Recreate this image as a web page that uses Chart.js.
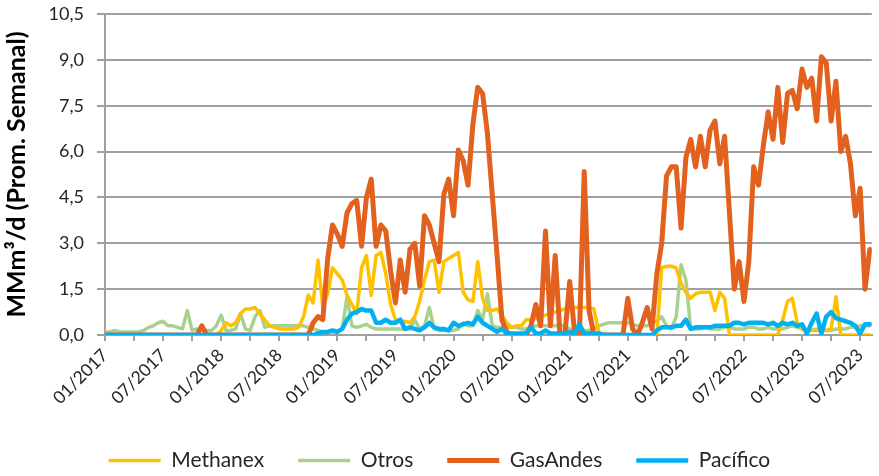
<!DOCTYPE html>
<html>
<head>
<meta charset="utf-8">
<script src="https://cdn.jsdelivr.net/npm/chart.js@4/dist/chart.umd.min.js"></script>
<style>
  html, body { margin: 0; padding: 0; background: #fff; }
  canvas { display: block; }
</style>
</head>
<body>
<canvas id="chart" width="879" height="476"></canvas>
<script>
// semi-monthly samples, first one = 01/2017 (one row per year)
const tickLabels = ['01/2017', '07/2017', '01/2018', '07/2018', '01/2019', '07/2019', '01/2020',
  '07/2020', '01/2021', '07/2021', '01/2022', '07/2022', '01/2023', '07/2023'];

const methanex = [
  0, 0, 0, 0, 0, 0, 0, 0, 0, 0, 0, 0, 0, 0, 0, 0, 0, 0, 0, 0, 0, 0, 0, 0,
  0.15, 0.4, 0.3, 0.4, 0.7, 0.85, 0.85, 0.9, 0.7, 0.5, 0.3, 0.25, 0.2, 0.2, 0.2, 0.2, 0.25, 0.6, 1.3, 1.05, 2.45, 0.9, 1.35, 2.2,
  2.0, 1.8, 1.3, 1.0, 0.7, 2.2, 2.6, 1.3, 2.6, 2.7, 2.0, 1.0, 0.5, 0.45, 0.45, 0.4, 0.6, 1.1, 1.8, 2.4, 2.45, 1.4, 2.4, 2.5,
  2.6, 2.7, 1.4, 1.15, 1.1, 2.4, 1.2, 0.8, 0.8, 0.85, 0.65, 0.4, 0.25, 0.3, 0.3, 0.5, 0.5, 0.55, 0.6, 0.65, 0.7, 0.75, 0.8, 0.85,
  0.9, 0.9, 0.9, 0.9, 0.9, 0.85, 0.1, 0, 0, 0, 0, 0, 0, 0, 0, 0, 0, 0, 0, 2.2, 2.25, 2.25, 2.2, 1.7,
  1.4, 1.2, 1.35, 1.4, 1.4, 1.4, 0.8, 1.4, 1.2, 0, 0, 0, 0, 0, 0, 0, 0, 0, 0, 0, 0.5, 1.1, 1.2, 0.4,
  0.2, 0.15, 0.15, 0.15, 0.15, 0.15, 0.2, 1.25, 0, 0, 0, 0, 0, 0, 0
];

const otros = [
  0.1, 0.1, 0.15, 0.1, 0.1, 0.1, 0.1, 0.1, 0.15, 0.25, 0.3, 0.4, 0.45, 0.3, 0.3, 0.25, 0.2, 0.8, 0.15, 0.2, 0.2, 0.15, 0.15, 0.3,
  0.65, 0.15, 0.15, 0.2, 0.7, 0.2, 0.15, 0.6, 0.8, 0.25, 0.3, 0.3, 0.3, 0.3, 0.3, 0.3, 0.3, 0.3, 0.25, 0.2, 0.15, 0.1, 0.1, 0.1,
  0.1, 0.2, 1.25, 0.3, 0.25, 0.3, 0.35, 0.25, 0.2, 0.2, 0.2, 0.2, 0.2, 0.2, 0.2, 0.2, 0.5, 0.2, 0.3, 0.9, 0.2, 0.15, 0.15, 0.15,
  0.15, 0.2, 0.4, 0.3, 0.3, 0.8, 0.5, 1.35, 0.3, 0.25, 0.25, 0.25, 0.25, 0.25, 0.2, 0.2, 0.25, 0.3, 0.3, 0.3, 0.3, 0.3, 0.3, 0.3,
  0.2, 0.15, 0.15, 0.15, 0.15, 0.2, 0.3, 0.35, 0.4, 0.4, 0.4, 0.4, 0.4, 0.35, 0.3, 0.3, 0.3, 0.4, 0.45, 0.6, 0.3, 0.2, 0.6, 2.3,
  1.8, 0.2, 0.2, 0.2, 0.25, 0.2, 0.2, 0.2, 0.25, 0.25, 0.2, 0.2, 0.2, 0.25, 0.25, 0.2, 0.2, 0.25, 0.2, 0.2, 0.2, 0.25, 0.3, 0.25,
  0.2, 0.15, 0.15, 0.2, 0.2, 0.15, 0.15, 0.2, 0.2, 0.2, 0.25, 0.25, 0.3, 0.3, 0.3
];

const gasAndes = [
  0, 0, 0, 0, 0, 0, 0, 0, 0, 0, 0, 0, 0, 0, 0, 0, 0, 0, 0, 0, 0.3, 0, 0, 0,
  0, 0, 0, 0, 0, 0, 0, 0, 0, 0, 0, 0, 0, 0, 0, 0, 0, 0, 0, 0.4, 0.6, 0.5, 2.5, 3.6,
  3.3, 2.9, 4.0, 4.3, 4.4, 2.9, 4.5, 5.1, 2.9, 3.6, 3.4, 2.1, 1.05, 2.45, 1.4, 2.8, 3.0, 1.6, 3.9, 3.6, 3.0, 2.4, 4.6, 5.1,
  3.9, 6.05, 5.7, 4.9, 6.9, 8.1, 7.9, 6.6, 4.6, 2.6, 0.5, 0.1, 0, 0, 0, 0, 0.3, 1.0, 0.3, 3.4, 0.3, 2.6, 0, 0,
  1.75, 0.1, 0, 5.35, 0.8, 0, 0, 0, 0, 0, 0, 0, 1.2, 0.2, 0, 0.4, 0.9, 0.2, 2.0, 3.0, 5.2, 5.5, 5.5, 3.5,
  5.8, 6.4, 5.5, 6.5, 5.5, 6.7, 7.0, 5.6, 6.5, 4.0, 1.5, 2.4, 1.1, 2.4, 5.5, 4.9, 6.2, 7.3, 6.4, 8.1, 6.3, 7.9, 8.0, 7.4,
  8.7, 8.1, 8.4, 7.0, 9.1, 8.9, 7.0, 8.3, 6.0, 6.5, 5.6, 3.9, 4.8, 1.5, 2.8
];

const pacifico = [
  0, 0, 0, 0, 0, 0, 0, 0, 0, 0, 0, 0, 0, 0, 0, 0, 0, 0, 0, 0, 0, 0, 0, 0,
  0, 0, 0, 0, 0, 0, 0, 0, 0, 0, 0, 0, 0, 0, 0, 0, 0, 0, 0, 0, 0.05, 0.1, 0.1, 0.15,
  0.1, 0.2, 0.5, 0.7, 0.75, 0.85, 0.8, 0.8, 0.4, 0.4, 0.5, 0.4, 0.4, 0.5, 0.2, 0.25, 0.2, 0.15, 0.25, 0.4, 0.25, 0.2, 0.2, 0.15,
  0.4, 0.3, 0.35, 0.4, 0.35, 0.6, 0.4, 0.3, 0.2, 0.1, 0.2, 0.05, 0.05, 0.05, 0.05, 0.05, 0.25, 0.05, 0.05, 0.15, 0.05, 0.05, 0.05, 0.05,
  0.1, 0.05, 0.35, 0.05, 0.05, 0.05, 0.05, 0, 0, 0, 0, 0, 0, 0, 0, 0, 0, 0, 0.15, 0.25, 0.25, 0.25, 0.3, 0.3,
  0.5, 0.2, 0.25, 0.25, 0.25, 0.25, 0.3, 0.3, 0.3, 0.3, 0.4, 0.4, 0.35, 0.4, 0.4, 0.4, 0.4, 0.35, 0.4, 0.3, 0.4, 0.35, 0.4, 0.3,
  0.35, 0.05, 0.4, 0.7, 0.05, 0.6, 0.75, 0.55, 0.5, 0.45, 0.4, 0.3, 0.05, 0.35, 0.35
];

// x value in months since 01/2017
const toPoints = arr => arr.map((v, i) => ({ x: i / 2, y: v }));

Chart.defaults.font.family = 'Lato, "Open Sans", sans-serif';
Chart.defaults.color = '#262626';

const gridGray = '#a0a0a0';

const series = [
  { label: 'Methanex', data: methanex, color: '#ffc000', width: 3.5, order: 2 },
  { label: 'Otros', data: otros, color: '#a9d18e', width: 3.5, order: 3 },
  { label: 'GasAndes', data: gasAndes, color: '#e2611e', width: 5, order: 1 },
  { label: 'Pacífico', data: pacifico, color: '#00b0f0', width: 4.5, order: 0 }
];

new Chart(document.getElementById('chart'), {
  type: 'line',
  data: {
    datasets: series.map(s => ({
      label: s.label,
      data: toPoints(s.data),
      borderColor: s.color,
      backgroundColor: s.color,
      borderWidth: s.width,
      pointRadius: 0,
      tension: 0,
      order: s.order,
      borderJoinStyle: 'round',
      borderCapStyle: 'round'
    }))
  },
  options: {
    responsive: false,
    animation: false,
    layout: { padding: { top: 14, right: 0, left: 0, bottom: -5 } },
    plugins: {
      tooltip: { enabled: false },
      legend: {
        position: 'bottom',
        labels: {
          usePointStyle: true,
          pointStyleWidth: 52,
          pointStyle: 'line',
          padding: 34,
          font: { size: 21 },
          color: '#262626',
          sort: (a, b) => a.datasetIndex - b.datasetIndex
        }
      }
    },
    scales: {
      x: {
        type: 'linear',
        min: 0,
        max: 79.2,
        afterFit: s => { s.height = 81; },
        border: { color: gridGray, width: 2 },
        grid: { drawOnChartArea: false, color: gridGray, lineWidth: 2, tickLength: 6 },
        ticks: {
          stepSize: 3,
          autoSkip: false,
          includeBounds: false,
          minRotation: 45,
          maxRotation: 45,
          padding: 4,
          font: { size: 17.5 },
          callback: v => (v % 6 === 0 ? tickLabels[v / 6] : '')
        }
      },
      y: {
        min: 0,
        max: 10.5,
        afterFit: s => {
          s.width = 105;
          s.paddingTop = 0;
          s.paddingBottom = 0;
        },
        border: { color: gridGray, width: 2 },
        grid: { color: gridGray, lineWidth: 2, tickLength: 8 },
        ticks: {
          stepSize: 1.5,
          padding: 13,
          font: { size: 18 },
          callback: v => v.toFixed(1).replace('.', ',')
        },
        title: {
          display: true,
          text: 'MMm³/d (Prom. Semanal)',
          color: '#000',
          font: { size: 25, weight: 'bold' },
          padding: { top: 2, bottom: 0 }
        }
      }
    }
  }
});
</script>
</body>
</html>
